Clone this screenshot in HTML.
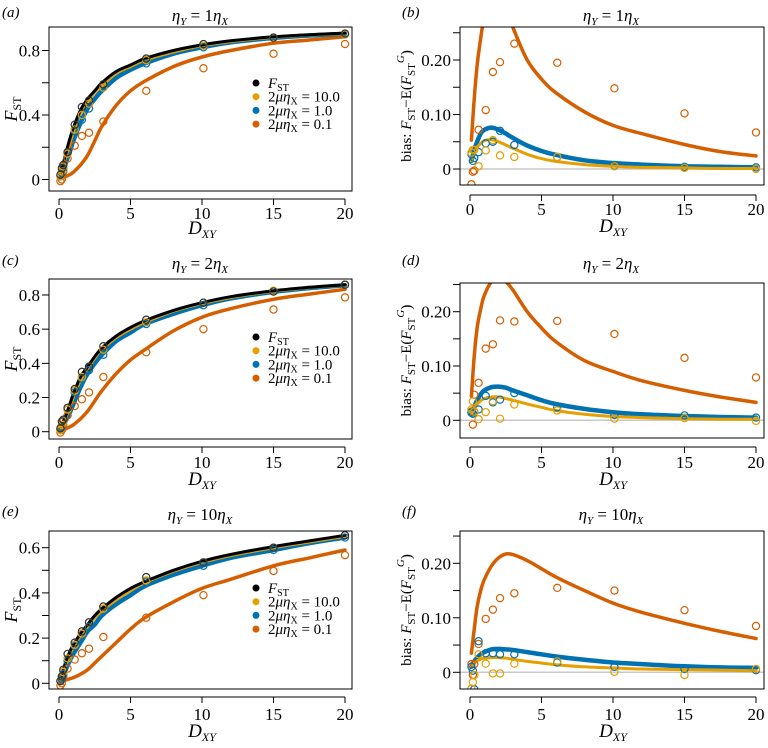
<!DOCTYPE html>
<html><head><meta charset="utf-8"><style>
html,body{margin:0;padding:0;background:#fff;}
svg, svg text{font-family:"Liberation Serif","DejaVu Serif",serif;}
</style></head><body>
<svg id="fig" width="768" height="743" viewBox="0 0 768 743" xmlns="http://www.w3.org/2000/svg" font-family="Liberation Serif, DejaVu Serif, serif"></svg>
<script>
const NS="http://www.w3.org/2000/svg";
const curveX=[0.1,0.3,0.5,0.75,1,1.5,2,2.5,3,4,5,6,8,10,12,15,17.5,20];
const ptX=[0.1,0.2,0.3,0.6,1.1,1.6,2.1,3.1,6.1,10.1,15,20];
const xTicks=[0,5,10,15,20];
const seriesNames=["black","gold","blue","orange"];
// panel a
const aCurveBlack=[0.03,0.1,0.17,0.25,0.32,0.43,0.5,0.55,0.6,0.67,0.71,0.75,0.8,0.835,0.86,0.885,0.898,0.908];
const aCurveGold=[0.02,0.08,0.15,0.22,0.29,0.41,0.48,0.54,0.58,0.66,0.70,0.74,0.79,0.83,0.855,0.882,0.896,0.905];
const aCurveBlue=[0.01,0.05,0.11,0.17,0.24,0.35,0.44,0.5,0.55,0.63,0.68,0.72,0.78,0.82,0.85,0.878,0.893,0.903];
const aCurveOrange=[0.005,0.012,0.02,0.03,0.045,0.09,0.15,0.24,0.33,0.46,0.55,0.61,0.7,0.76,0.8,0.845,0.865,0.885];
const aPtBlack=[0.03,0.07,0.09,0.17,0.34,0.45,0.49,0.59,0.75,0.84,0.88,0.905];
const aPtGold=[0.02,0.05,0.08,0.16,0.31,0.4,0.47,0.57,0.74,0.83,0.88,0.9];
const aPtBlue=[0.02,0.04,0.07,0.16,0.3,0.37,0.44,0.57,0.72,0.82,0.88,0.9];
const aPtOrange=[-0.01,0.0,0.05,0.13,0.21,0.27,0.29,0.36,0.55,0.69,0.78,0.84];
// panel b
const bCurveGold=[0.015,0.03,0.04,0.047,0.052,0.054,0.05,0.044,0.038,0.027,0.019,0.014,0.008,0.005,0.003,0.002,0.001,0.001];
const bCurveBlue=[0.015,0.035,0.05,0.065,0.072,0.076,0.072,0.065,0.057,0.043,0.033,0.026,0.016,0.011,0.008,0.005,0.004,0.003];
const bCurveOrange=[0.053,0.13,0.19,0.24,0.28,0.33,0.33,0.30,0.26,0.2,0.165,0.14,0.105,0.08,0.065,0.045,0.032,0.024];
const bPtGold=[0.03,0.035,0.035,0.005,0.034,0.053,0.025,0.022,0.022,0.005,0.002,0.0];
const bPtBlue=[0.027,0.015,0.02,0.031,0.047,0.05,0.07,0.044,0.022,0.006,0.004,0.003];
const bPtOrange=[-0.028,-0.005,-0.003,0.072,0.108,0.178,0.196,0.23,0.195,0.148,0.102,0.067];
// panel c
const cCurveBlack=[0.02,0.06,0.1,0.16,0.22,0.32,0.38,0.44,0.49,0.56,0.61,0.65,0.71,0.755,0.79,0.825,0.845,0.86];
const cCurveGold=[0.015,0.05,0.09,0.14,0.2,0.3,0.37,0.43,0.48,0.55,0.6,0.64,0.705,0.75,0.785,0.822,0.843,0.858];
const cCurveBlue=[0.01,0.04,0.07,0.11,0.16,0.26,0.34,0.4,0.45,0.53,0.58,0.63,0.69,0.74,0.78,0.818,0.84,0.857];
const cCurveOrange=[0.005,0.01,0.018,0.028,0.04,0.075,0.12,0.18,0.24,0.34,0.42,0.48,0.59,0.67,0.72,0.775,0.805,0.833];
const cPtBlack=[0.02,0.06,0.07,0.14,0.25,0.35,0.38,0.5,0.655,0.755,0.82,0.86];
const cPtGold=[0.01,0.04,0.06,0.13,0.24,0.32,0.38,0.48,0.64,0.755,0.825,0.86];
const cPtBlue=[0.01,0.03,0.06,0.13,0.23,0.31,0.36,0.45,0.63,0.74,0.82,0.86];
const cPtOrange=[-0.005,0.01,0.04,0.095,0.15,0.19,0.23,0.32,0.465,0.6,0.715,0.786];
// panel d
const dCurveGold=[0.012,0.022,0.03,0.036,0.04,0.043,0.043,0.04,0.037,0.03,0.024,0.018,0.011,0.007,0.005,0.003,0.002,0.002];
const dCurveBlue=[0.012,0.025,0.037,0.048,0.055,0.061,0.062,0.06,0.055,0.046,0.037,0.03,0.021,0.015,0.011,0.008,0.006,0.005];
const dCurveOrange=[0.044,0.12,0.17,0.205,0.23,0.255,0.26,0.255,0.24,0.2,0.17,0.145,0.11,0.09,0.073,0.055,0.043,0.033];
const dPtGold=[0.02,0.035,0.016,0.002,0.015,0.035,0.003,0.029,0.018,0.003,0.004,-0.001];
const dPtBlue=[0.014,0.012,0.015,0.02,0.045,0.033,0.038,0.05,0.024,0.01,0.009,0.005];
const dPtOrange=[0.016,-0.008,0.047,0.069,0.132,0.14,0.184,0.182,0.183,0.159,0.115,0.079];
// panel e
const eCurveBlack=[0.02,0.06,0.1,0.14,0.17,0.22,0.26,0.3,0.33,0.38,0.42,0.45,0.5,0.54,0.57,0.605,0.63,0.655];
const eCurveGold=[0.015,0.05,0.085,0.125,0.16,0.21,0.25,0.29,0.32,0.37,0.41,0.445,0.495,0.535,0.565,0.6,0.625,0.65];
const eCurveBlue=[0.01,0.035,0.065,0.1,0.13,0.18,0.23,0.26,0.3,0.35,0.39,0.43,0.48,0.52,0.555,0.59,0.62,0.645];
const eCurveOrange=[0.005,0.01,0.015,0.02,0.025,0.04,0.06,0.09,0.12,0.18,0.24,0.29,0.36,0.42,0.46,0.52,0.555,0.59];
const ePtBlack=[0.01,0.03,0.06,0.13,0.18,0.23,0.27,0.34,0.47,0.535,0.6,0.655];
const ePtGold=[0.01,0.03,0.05,0.11,0.17,0.22,0.27,0.33,0.455,0.535,0.6,0.655];
const ePtBlue=[0.01,0.02,0.04,0.1,0.165,0.22,0.25,0.33,0.45,0.52,0.59,0.645];
const ePtOrange=[-0.01,0.0,0.03,0.065,0.105,0.133,0.153,0.205,0.29,0.39,0.497,0.567];
// panel f
const fCurveGold=[0.01,0.017,0.021,0.024,0.026,0.027,0.027,0.026,0.024,0.02,0.017,0.014,0.01,0.008,0.006,0.005,0.004,0.003];
const fCurveBlue=[0.01,0.02,0.027,0.033,0.037,0.042,0.043,0.042,0.041,0.037,0.033,0.029,0.023,0.018,0.015,0.011,0.009,0.008];
const fCurveOrange=[0.035,0.08,0.12,0.15,0.17,0.195,0.21,0.217,0.216,0.205,0.19,0.175,0.15,0.127,0.11,0.09,0.075,0.062];
const fPtGold=[-0.03,-0.018,-0.005,0.033,0.016,-0.002,-0.002,0.016,0.02,0.001,-0.005,0.006];
const fPtBlue=[0.01,0.003,-0.031,0.057,0.035,0.035,0.033,0.033,0.018,0.01,0.006,0.004];
const fPtOrange=[0.015,-0.005,0.015,0.052,0.098,0.115,0.136,0.145,0.155,0.15,0.114,0.085];
const leftYTicksA=[0,0.2,0.4,0.6,0.8], leftYLabelsA=["0","","0.4","","0.8"];
const leftYTicksC=[0,0.2,0.4,0.6,0.8], leftYLabelsC=["0","0.2","0.4","0.6","0.8"];
const leftYTicksE=[0,0.1,0.2,0.3,0.4,0.5,0.6], leftYLabelsE=["0","","0.2","","0.4","","0.6"];
const rightYTicks=[0,0.05,0.1,0.15,0.2,0.25], rightYLabels=["0","","0.10","","0.20",""];
const legendLabels=["F_ST","2μη_X = 10.0","2μη_X = 1.0","2μη_X = 0.1"];

const FONT='"Liberation Serif","DejaVu Serif",serif';
const COL={black:"#000",gold:"#E69F00",blue:"#0072B2",orange:"#D55E00"};
const LW={black:3,gold:3,blue:4.5,orange:3.5};
const svg=document.getElementById('fig');
function el(tag,attrs,parent){const e=document.createElementNS(NS,tag);for(const k in attrs)e.setAttribute(k,attrs[k]);if(tag==='text')e.setAttribute('font-family',FONT);(parent||svg).appendChild(e);return e;}
function smooth(P){
 let d='M'+P[0][0].toFixed(1)+','+P[0][1].toFixed(1);
 for(let i=0;i<P.length-1;i++){
  const p0=P[Math.max(0,i-1)],p1=P[i],p2=P[i+1],p3=P[Math.min(P.length-1,i+2)];
  const c1=[p1[0]+(p2[0]-p0[0])/6,p1[1]+(p2[1]-p0[1])/6];
  const c2=[p2[0]-(p3[0]-p1[0])/6,p2[1]-(p3[1]-p1[1])/6];
  d+='C'+c1[0].toFixed(1)+','+c1[1].toFixed(1)+' '+c2[0].toFixed(1)+','+c2[1].toFixed(1)+' '+p2[0].toFixed(1)+','+p2[1].toFixed(1);
 }
 return d;
}

const panels=[
 {id:"a",left:true,box:[49,27,352,191],x0:59,x20:345,y0:179.5,k:161.25,axisY:199,lblY:213,dxyY:234,title:"1",titleY:21,yt:leftYTicksA,yl:leftYLabelsA,legY:83,
  curves:{black:aCurveBlack,gold:aCurveGold,blue:aCurveBlue,orange:aCurveOrange},pts:{black:aPtBlack,gold:aPtGold,blue:aPtBlue,orange:aPtOrange}},
 {id:"b",left:false,box:[460,27,764,185],x0:470,x20:756,y0:169,k:545,axisY:195,lblY:209,dxyY:232,title:"1",titleY:21,yt:rightYTicks,yl:rightYLabels,
  curves:{gold:bCurveGold,blue:bCurveBlue,orange:bCurveOrange},pts:{gold:bPtGold,blue:bPtBlue,orange:bPtOrange}},
 {id:"c",left:true,box:[49,279,352,439],x0:59,x20:345,y0:431.7,k:170.9,axisY:447,lblY:462,dxyY:485,title:"2",titleY:269,yt:leftYTicksC,yl:leftYLabelsC,legY:337,
  curves:{black:cCurveBlack,gold:cCurveGold,blue:cCurveBlue,orange:cCurveOrange},pts:{black:cPtBlack,gold:cPtGold,blue:cPtBlue,orange:cPtOrange}},
 {id:"d",left:false,box:[460,283,764,438],x0:470,x20:756,y0:420.3,k:543,axisY:447,lblY:462,dxyY:485,title:"2",titleY:269,yt:rightYTicks,yl:rightYLabels,
  curves:{gold:dCurveGold,blue:dCurveBlue,orange:dCurveOrange},pts:{gold:dPtGold,blue:dPtBlue,orange:dPtOrange}},
 {id:"e",left:true,box:[49,531,352,689],x0:59,x20:345,y0:683.3,k:226,axisY:697,lblY:714,dxyY:737,title:"10",titleY:520,yt:leftYTicksE,yl:leftYLabelsE,legY:588,
  curves:{black:eCurveBlack,gold:eCurveGold,blue:eCurveBlue,orange:eCurveOrange},pts:{black:ePtBlack,gold:ePtGold,blue:ePtBlue,orange:ePtOrange}},
 {id:"f",left:false,box:[460,531,764,689],x0:470,x20:756,y0:672.3,k:545,axisY:697,lblY:714,dxyY:737,title:"10",titleY:520,yt:rightYTicks,yl:rightYLabels,
  curves:{gold:fCurveGold,blue:fCurveBlue,orange:fCurveOrange},pts:{gold:fPtGold,blue:fPtBlue,orange:fPtOrange}}
];

panels.forEach(p=>{
 const g=el('g',{});
 
 
 const sx=v=>p.x0+(p.x20-p.x0)*v/20, sy=v=>p.y0-p.k*v;
 const [bx0,by0,bx1,by1]=p.box;
 const cp=el('clipPath',{id:'clip'+p.id},g);
 el('rect',{x:bx0,y:by0,width:bx1-bx0,height:by1-by0},cp);
 const lt=el('text',{x:p.left?2:402,y:p.titleY-4,'font-size':15,'font-style':'italic'},g);
 lt.textContent='('+p.id+')';
 
 
 const tt=el('text',{x:p.left?200:611,y:p.titleY,'font-size':17,'text-anchor':'middle'},g);
 
 
 tt.innerHTML='<tspan font-style="italic">η</tspan><tspan font-size="11" dy="4" font-style="italic">Y</tspan><tspan dy="-4"> = '+p.title+'</tspan><tspan font-style="italic">η</tspan><tspan font-size="11" dy="4" font-style="italic">X</tspan>';
 if(!p.left){const z=el('line',{x1:bx0,x2:bx1,y1:sy(0),y2:sy(0),stroke:'#c8c8c8','stroke-width':1.5},g);
  }
 const cg=el('g',{'clip-path':'url(#clip'+p.id+')'},g);
 ["orange","blue","gold","black"].forEach(s=>{
  const arr=p.curves[s]; if(!arr) return;
  const P=curveX.map((x,i)=>[sx(x),sy(arr[i])]);
  const path=el('path',{d:smooth(P),fill:'none',stroke:COL[s],'stroke-width':LW[s],'stroke-linejoin':'round','stroke-linecap':'round'},cg);
  
  
 });
 ["orange","blue","gold","black"].forEach(s=>{
  const arr=p.pts[s]; if(!arr) return;
  arr.forEach((v,i)=>{
   const c=el('circle',{cx:sx(ptX[i]),cy:sy(v),r:3.6,fill:'none',stroke:s==='black'?'#333':COL[s],'stroke-width':1.2},cg);
   
   
  });
 });
 const bx=el('rect',{x:bx0,y:by0,width:bx1-bx0,height:by1-by0,fill:'none',stroke:'#000','stroke-width':1},g);
 
 const xa=el('g',{},g);
 
 el('line',{x1:sx(0),x2:sx(20),y1:p.axisY,y2:p.axisY,stroke:'#000'},xa);
 xTicks.forEach(t=>{
  el('line',{x1:sx(t),x2:sx(t),y1:p.axisY,y2:p.axisY+6,stroke:'#000'},xa);
  const tl=el('text',{x:sx(t),y:p.lblY+6,'font-size':17,'text-anchor':'middle'},xa);
  tl.textContent=t;
 });
 const dx=el('text',{x:(sx(0)+sx(20))/2,y:p.dxyY,'font-size':19,'text-anchor':'middle','font-style':'italic'},g);
 
 dx.innerHTML='D<tspan font-size="12" dy="4">XY</tspan>';
 const ya=el('g',{},g);
 
 p.yt.forEach((t,i)=>{
  el('line',{x1:bx0-7,x2:bx0,y1:sy(t),y2:sy(t),stroke:'#000'},ya);
  if(p.yl[i]){const tl=el('text',{x:bx0-9,y:sy(t)+6,'font-size':17,'text-anchor':'end'},ya);tl.textContent=p.yl[i];}
 });
 const yx=p.left?17:411, yc=(by0+by1)/2;
 const yt=el('text',{x:yx,y:yc,'font-size':p.left?18:15,'text-anchor':'middle',transform:'rotate(-90 '+yx+' '+yc+')'},g);
 
 if(p.left) yt.innerHTML='<tspan font-style="italic">F</tspan><tspan font-size="12" dy="4">ST</tspan>';
 else yt.innerHTML='bias: <tspan font-style="italic">F</tspan><tspan font-size="11" dy="4">ST</tspan><tspan dy="-4">−E(</tspan><tspan font-style="italic">F</tspan><tspan font-size="11" dy="4">ST</tspan><tspan font-size="11" dy="-11" font-style="italic">G</tspan><tspan dy="7">)</tspan>';
 if(p.left){
  const lg=el('g',{},g);
  
  seriesNames.forEach((s,i)=>{
   const y=p.legY+i*13.7;
   const e=el('g',{},lg);
   
   
   el('circle',{cx:256,cy:y,r:3.5,fill:COL[s]},e);
   const t=el('text',{x:268,y:y+5,'font-size':15},e);
   if(i===0) t.innerHTML='<tspan font-style="italic">F</tspan><tspan font-size="10" dy="3">ST</tspan>';
   else { const v=legendLabels[i].split('= ')[1]; t.innerHTML='2<tspan font-style="italic">μη</tspan><tspan font-size="10" dy="3">X</tspan><tspan dy="-3"> = '+v+'</tspan>'; }
  });
 }
});
</script>
</body></html>
